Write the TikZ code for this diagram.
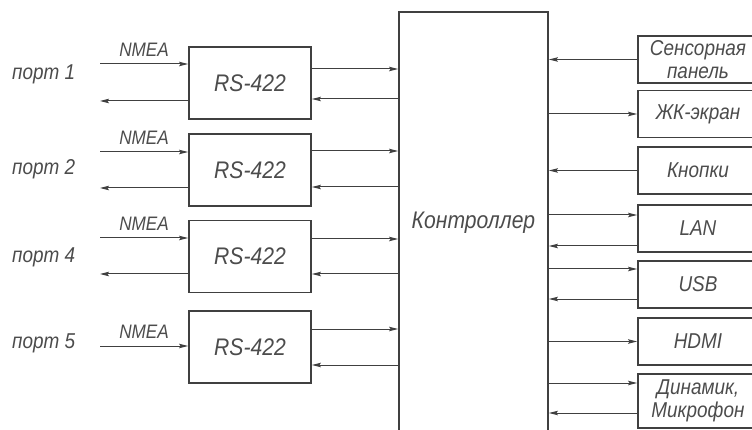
\documentclass[tikz,border=0pt]{standalone}
\usepackage{fontspec}
\setmainfont{Liberation Sans}[FakeStretch=0.88]
\usetikzlibrary{arrows.meta}
\definecolor{linegray}{gray}{0.25}
\definecolor{txtgray}{gray}{0.3}
\tikzset{
  lbl/.style={text=txtgray,font=\itshape\fontsize{21.5}{23}\selectfont},  % block / port text
  biglbl/.style={text=txtgray,font=\itshape\fontsize{24}{26}\selectfont},
  sig/.style={text=txtgray,font=\itshape\fontsize{19.5}{21}\selectfont,inner sep=0pt},% signal name
  blk/.style={draw=linegray,line width=1.8pt,inner sep=0pt,lbl},
  rsbox/.style={blk,biglbl,minimum width=122pt,minimum height=72pt},
  devbox/.style={blk,minimum width=120pt,minimum height=47pt,align=center},
  >={Stealth[length=9pt,width=4.5pt,inset=1.5pt]},
  arr/.style={->,linegray,line width=1pt},
  rarr/.style={<-,linegray,line width=1pt},
}
\begin{document}
\begin{tikzpicture}[x=1pt,y=-1pt]
  \clip (0,0) rectangle (752,430);
  % controller
  \node[blk,biglbl,minimum width=149pt,minimum height=422pt] (ctl) at (473.5,223) {Контроллер};
  % RS-422 converters
  \node[rsbox] (rs1) at (250,83) {RS-422};
  \node[rsbox] (rs2) at (250,170) {RS-422};
  \node[rsbox] (rs3) at (250,256.5) {RS-422};
  \node[rsbox] (rs4) at (250,347) {RS-422};
  % ports
  \node[lbl,anchor=base west,inner sep=0pt] (port1) at (12,80) {порт 1};
  \node[lbl,anchor=base west,inner sep=0pt] (port2) at (12,175) {порт 2};
  \node[lbl,anchor=base west,inner sep=0pt] (port4) at (12,263) {порт 4};
  \node[lbl,anchor=base west,inner sep=0pt] (port5) at (12,348) {порт 5};
  \coordinate (in1) at (100,64);  \coordinate (out1) at (100,101);
  \coordinate (in2) at (100,152); \coordinate (out2) at (100,188);
  \coordinate (in4) at (100,238); \coordinate (out4) at (100,274);
  \coordinate (in5) at (100,346);
  \draw[arr] (in1) -- (in1 -| rs1.west) node[midway,sig,above=7pt] {NMEA};
  \draw[rarr] (out1) -- (out1 -| rs1.west);
  \draw[arr] (in2) -- (in2 -| rs2.west) node[midway,sig,above=7pt] {NMEA};
  \draw[rarr] (out2) -- (out2 -| rs2.west);
  \draw[arr] (in4) -- (in4 -| rs3.west) node[midway,sig,above=7pt] {NMEA};
  \draw[rarr] (out4) -- (out4 -| rs3.west);
  \draw[arr] (in5) -- (in5 -| rs4.west) node[midway,sig,above=7pt] {NMEA};
  % converters <-> controller
  \draw[arr]  ([yshift=14pt]rs1.east) coordinate (a) -- (a -| ctl.west);
  \draw[rarr] ([yshift=-16pt]rs1.east) coordinate (a) -- (a -| ctl.west);
  \draw[arr]  ([yshift=19pt]rs2.east) coordinate (a) -- (a -| ctl.west);
  \draw[rarr] ([yshift=-17pt]rs2.east) coordinate (a) -- (a -| ctl.west);
  \draw[arr]  ([yshift=17.5pt]rs3.east) coordinate (a) -- (a -| ctl.west);
  \draw[rarr] ([yshift=-17.5pt]rs3.east) coordinate (a) -- (a -| ctl.west);
  \draw[arr]  ([yshift=18pt]rs4.east) coordinate (a) -- (a -| ctl.west);
  \draw[rarr] ([yshift=-18pt]rs4.east) coordinate (a) -- (a -| ctl.west);
  % peripherals
  \node[devbox] (sens) at (698,59.5) {Сенсорная\\панель};
  \node[devbox] (lcd) at (698,114) {ЖК-экран};
  \node[devbox] (btn) at (698,170.5) {Кнопки};
  \node[devbox] (lan) at (698,228.5) {LAN};
  \node[devbox] (usb) at (698,284.5) {USB};
  \node[devbox] (hdmi) at (698,341.5) {HDMI};
  \node[devbox,minimum height=54pt] (spk) at (698,401) {Динамик,\\Микрофон};
  \draw[rarr] (sens.west -| ctl.east) -- (sens.west);
  \draw[arr]  (lcd.west -| ctl.east) -- (lcd.west);
  \draw[rarr] (btn.west -| ctl.east) -- (btn.west);
  \draw[arr]  ([yshift=13.5pt]lan.west) coordinate (a) (a -| ctl.east) -- (a);
  \draw[rarr] ([yshift=-17.5pt]lan.west) coordinate (a) (a -| ctl.east) -- (a);
  \draw[arr]  ([yshift=15.5pt]usb.west) coordinate (a) (a -| ctl.east) -- (a);
  \draw[rarr] ([yshift=-14.5pt]usb.west) coordinate (a) (a -| ctl.east) -- (a);
  \draw[arr]  (hdmi.west -| ctl.east) -- (hdmi.west);
  \draw[arr]  ([yshift=18pt]spk.west) coordinate (a) (a -| ctl.east) -- (a);
  \draw[rarr] ([yshift=-12pt]spk.west) coordinate (a) (a -| ctl.east) -- (a);
\end{tikzpicture}
\end{document}
